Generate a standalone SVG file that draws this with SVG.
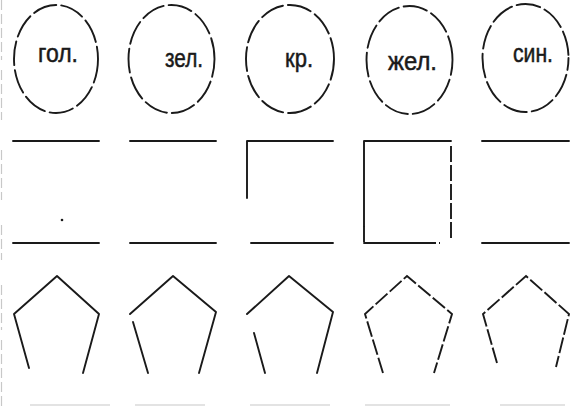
<svg xmlns="http://www.w3.org/2000/svg" width="579" height="409" viewBox="0 0 579 409">
<style>
.o{fill:none;stroke:#1a1a1a;stroke-width:1.9;stroke-dasharray:24 5;stroke-linecap:round}
.l{fill:none;stroke:#1a1a1a;stroke-width:1.9;stroke-linecap:round;stroke-linejoin:round}
.d{fill:none;stroke:#1a1a1a;stroke-width:1.9;stroke-dasharray:16 3}
.t{font-family:"Liberation Sans",Arial,sans-serif;font-size:25px;fill:#1a1a1a;stroke:#1a1a1a;stroke-width:0.5}
.s{fill:none;stroke:#c8c8c8;stroke-width:1.2}
</style>
<rect width="579" height="409" fill="#fff"/>
<g id="edges">
<path class="s" d="M1.5,0V60M1.5,70V120M1.5,150V200M1.5,225V260M1.5,285V330M1.5,340V409" stroke-dasharray="10 4"/>
<path class="s" d="M30,405H110M135,405H205M250,405H330M365,405H450M500,405H565"/>
</g>
<g id="circle1"><ellipse class="o" cx="56" cy="59" rx="42" ry="54"/><text class="t" x="38" y="62" textLength="40" lengthAdjust="spacingAndGlyphs">гол.</text></g>
<g id="circle2"><ellipse class="o" cx="171.5" cy="59" rx="43" ry="54" stroke-dashoffset="6"/><text class="t" x="165" y="67" textLength="38" lengthAdjust="spacingAndGlyphs">зел.</text></g>
<g id="circle3"><ellipse class="o" cx="290" cy="59" rx="44" ry="54" stroke-dashoffset="3"/><text class="t" x="285" y="67" textLength="28" lengthAdjust="spacingAndGlyphs">кр.</text></g>
<g id="circle4"><ellipse class="o" cx="409.5" cy="60" rx="43" ry="54" stroke-dashoffset="9"/><text class="t" x="388" y="70" textLength="49" lengthAdjust="spacingAndGlyphs">жел.</text></g>
<g id="circle5"><ellipse class="o" cx="525.5" cy="58" rx="43" ry="54" stroke-dashoffset="12"/><text class="t" x="513" y="62" textLength="40" lengthAdjust="spacingAndGlyphs">син.</text></g>
<g id="square1"><path class="l" d="M13,141H99M13,243H99"/><circle cx="62" cy="220" r="1.3" fill="#1a1a1a"/></g>
<g id="square2"><path class="l" d="M130,141H216M130,243H216"/></g>
<g id="square3"><path class="l" d="M247,198V141H333M251,243H333"/></g>
<g id="square4"><path class="l" d="M364,226V141H451M364,243H420"/><path class="d" d="M364,226V243M420,243H440M451,146V240"/></g>
<g id="square5"><path class="l" d="M482,141H569M482,243H569"/></g>
<g id="pentagon1"><path class="l" d="M29,368L14,314L57,276L99,314L83,373"/></g>
<g id="pentagon2"><path class="l" d="M130,314L173,276L216,312L199,373M133,322L148,373"/></g>
<g id="pentagon3"><path class="l" d="M247,314L289,276L333,312L317,373M254,333L265,373"/></g>
<g id="pentagon4"><path class="d" d="M383,373L365,314L407,276L452,314L434,373"/></g>
<g id="pentagon5"><path class="d" d="M497,363L483,314L526,276L569,314L556,367"/></g>
</svg>
